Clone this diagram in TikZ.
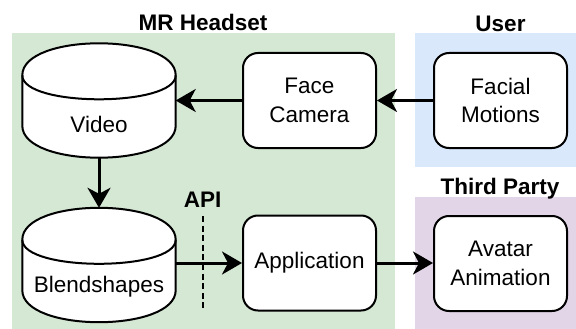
\documentclass[tikz,border=0pt]{standalone}
\usepackage{fontspec}
\setmainfont{Liberation Sans}
\usetikzlibrary{arrows.meta,calc}

\definecolor{headsetbg}{HTML}{D5E8D4}
\definecolor{userbg}{HTML}{DAE8FC}
\definecolor{partybg}{HTML}{E1D5E7}

% cylinder outline drawn around a (text-less) bounding node
\newcommand\drawcyl[1]{%
  \draw[cylline]
    ($(#1.north west)+(0,32)$)
      .. controls ($(#1.north west)+(0,-10.67)$) and ($(#1.north east)+(0,-10.67)$) ..
    ($(#1.north east)+(0,32)$)
    -- ($(#1.south east)+(0,-32)$)
      .. controls ($(#1.south east)+(0,10.67)$) and ($(#1.south west)+(0,10.67)$) ..
    ($(#1.south west)+(0,-32)$) -- cycle;
  \draw[cylline, fill=none]
    ($(#1.north west)+(0,32)$)
      .. controls ($(#1.north west)+(0,64)$) and ($(#1.north east)+(0,64)$) ..
    ($(#1.north east)+(0,32)$);
}

\tikzset{
  txt/.style={font=\fontsize{22.5}{28.5}\selectfont, align=center},
  title/.style={font=\fontsize{22.5}{28.5}\selectfont\bfseries, anchor=base},
  procbox/.style={txt, draw, line width=2pt, fill=white, rounded corners=15pt,
    minimum width=133pt, minimum height=95pt, inner sep=0pt},
  cylbox/.style={minimum width=153pt, minimum height=114pt, inner sep=0pt},
  cylline/.style={draw, line width=2pt, fill=white},
  flow/.style={line width=3pt, -{Stealth[length=20pt, width=23pt, inset=6pt]}},
  apiline/.style={line width=2pt, dash pattern=on 6pt off 3.6pt},
}

\begin{document}
\begin{tikzpicture}[x=1pt, y=-1pt]
  \useasboundingbox (0,0) rectangle (576,329);

  % group backgrounds
  \fill[headsetbg] (12,33) rectangle (395,329);
  \fill[userbg] (415,33) rectangle (576,167);
  \fill[partybg] (415,197) rectangle (576,329);

  % group titles
  \node[title] (headsettitle) at (203,31) {MR Headset};
  \node[title] (usertitle) at (500.5,31.5) {User};
  \node[title] (partytitle) at (500,194.5) {Third Party};
  \node[title] (apititle) at (202.7,207.7) {API};

  % data stores
  \node[cylbox] (video) at (99,100.5) {};
  \drawcyl{video}
  \node[txt] (videotext) at (99,124) {Video};

  \node[cylbox] (blend) at (99,265) {};
  \drawcyl{blend}
  \node[txt] (blendtext) at (99,286.5) {Blendshapes};

  % processes
  \node[procbox] (facecam) at (309.5,100.5) {Face\\Camera};
  \node[procbox] (motions) at (500.5,100.5) {Facial\\Motions};
  \node[procbox] (app) at (309.5,263) {Application};
  \node[procbox] (avatar) at (500.5,263.5) {Avatar\\Animation};

  % API boundary
  \coordinate (apitop) at (203,216);
  \coordinate (apibot) at (203,312);
  \draw[apiline] (apitop) -- (apibot);

  % data flow
  \draw[flow] (motions.west) -- (facecam.east);
  \draw[flow] (facecam.west) -- (video.east);
  \draw[flow] (video.south) -- (blend.north);
  \draw[flow] (blend.east |- app.west) -- (app.west);
  \draw[flow] (app.east) -- (avatar.west |- app.east);
\end{tikzpicture}
\end{document}
